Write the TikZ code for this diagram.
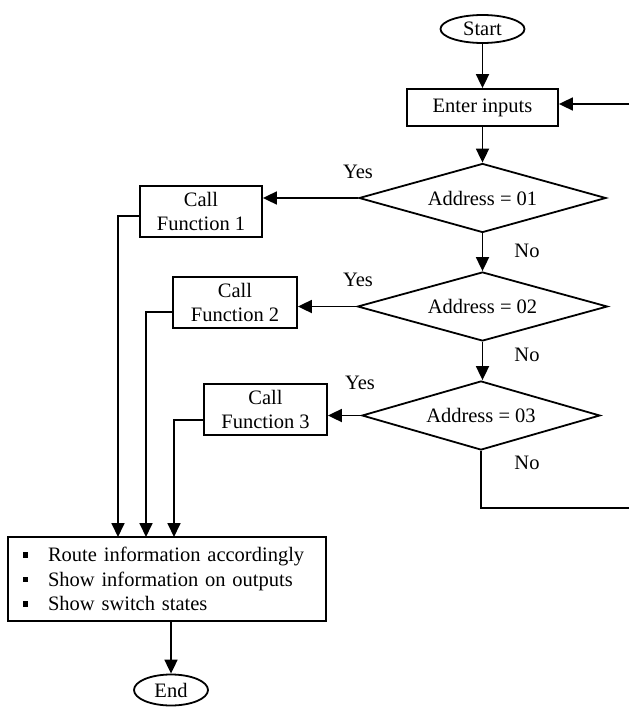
\documentclass[tikz,border=0pt]{standalone}
\usepackage{fontspec}
\setmainfont{Liberation Serif}
\usetikzlibrary{arrows.meta,shapes.geometric}
\newcommand{\sqbul}{\hspace*{15pt}\rule[4pt]{5.5pt}{5.5pt}\hspace*{19.5pt}}
\begin{document}
\begin{tikzpicture}[x=1pt,y=-1pt,
  every node/.style={font=\fontsize{20.5}{24.5}\selectfont},
  box/.style={draw, line width=1.8pt, rectangle, inner sep=0pt, align=center},
  dec/.style={draw, line width=1.8pt, diamond, shape aspect=3.6, inner sep=0pt},
  term/.style={draw, line width=1.8pt, ellipse, inner sep=0pt},
  conn/.style={line width=1.8pt},
  flow/.style={conn, -{Triangle[length=14pt,width=13pt]}},
  lbl/.style={inner sep=0pt}]
\useasboundingbox (0,0) rectangle (629,709);
\node[term, minimum width=84pt, minimum height=28pt] (start) at (482.5,29) {Start};
\node[box, minimum width=151pt, minimum height=37pt] (enter) at (482.5,107.5) {Enter inputs};
\node[dec, minimum width=247pt, minimum height=69pt] (d1) at (482.5,198) {Address = 01};
\node[dec, minimum width=250pt, minimum height=69pt] (d2) at (482.5,306.5) {Address = 02};
\node[dec, minimum width=238pt, minimum height=69pt] (d3) at (481,415.5) {Address = 03};
\node[box, minimum width=122pt, minimum height=51pt] (f1) at (201,211.5) {Call\\Function 1};
\node[box, minimum width=124pt, minimum height=51pt] (f2) at (235,302.5) {Call\\Function 2};
\node[box, minimum width=123pt, minimum height=51pt] (f3) at (265.5,409.5) {Call\\Function 3};
\node[box, minimum width=318pt, minimum height=84pt, text width=318pt, align=left] (out) at (167,579)
  {\sqbul Route information accordingly\\\sqbul Show information on outputs\\\sqbul Show switch states};
\node[term, minimum width=74pt, minimum height=31pt] (end) at (171,690) {End};
\node[lbl] (yes1) at (358,172) {Yes};
\node[lbl] (yes2) at (358,280) {Yes};
\node[lbl] (yes3) at (360,383) {Yes};
\node[lbl] (no1) at (527,251) {No};
\node[lbl] (no2) at (527,355) {No};
\node[lbl] (no3) at (527,463) {No};
\coordinate (in1) at (118,537);
\coordinate (in2) at (146,537);
\coordinate (in3) at (174,537);
\coordinate (loopa) at (481,508);
\coordinate (loopb) at (629,508);
\coordinate (fb) at (629,104);
\draw[flow] (start) -- (enter);
\draw[flow] (enter) -- (d1);
\draw[flow] (d1) -- (d2);
\draw[flow] (d2.south) -- (d2.south |- d3.north);
\draw[flow] (d1.west) -- (d1.west -| f1.east);
\draw[flow] (d2.west) -- (d2.west -| f2.east);
\draw[flow] (d3.west) -- (d3.west -| f3.east);
\draw[flow] ([yshift=-4.5pt]f1.west) -| (in1);
\draw[flow] ([yshift=-9.5pt]f2.west) -| (in2);
\draw[flow] ([yshift=-10.5pt]f3.west) -| (in3);
\draw[conn] (d3.south) -- (loopa) -- (loopb);
\draw[flow] (fb) -- (fb -| enter.east);
\draw[flow] (out.south -| end.north) -- (end.north);
\end{tikzpicture}
\end{document}
